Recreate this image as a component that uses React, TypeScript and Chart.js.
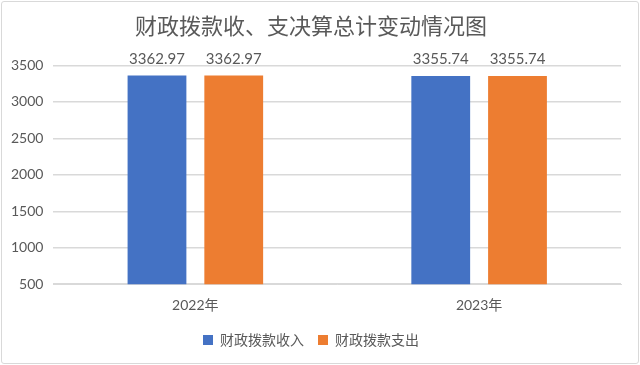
import React, { useEffect, useRef } from "react";
import { Chart, registerables } from "chart.js";

Chart.register(...registerables);

const categories = ["2022年", "2023年"];
const incomeValues = [3362.97, 3355.74];
const expenseValues = [3362.97, 3355.74];
const seriesNames = ["财政拨款收入", "财政拨款支出"];
const yTicks = [500, 1000, 1500, 2000, 2500, 3000, 3500];
const titleText = "财政拨款收、支决算总计变动情况图";

const FONT = 'Lato, "Noto Sans CJK SC", sans-serif';
const TEXT = "#595959";

const labelPlugin = {
  id: "barLabels",
  afterDatasetsDraw(chart: any) {
    const ctx = chart.ctx;
    ctx.save();
    ctx.font = `15px ${FONT}`;
    ctx.fillStyle = TEXT;
    ctx.textAlign = "center";
    ctx.textBaseline = "bottom";
    chart.data.datasets.forEach((ds: any, di: number) => {
      const meta = chart.getDatasetMeta(di);
      meta.data.forEach((el: any, i: number) => {
        const v = ds.data[i] as number;
        ctx.fillText(v.toFixed(2), el.x, el.y - 9);
      });
    });
    ctx.restore();
  },
};

export default function App() {
  const ref = useRef<HTMLCanvasElement>(null);
  useEffect(() => {
    if (!ref.current) return;
    const chart = new Chart(ref.current, {
      type: "bar",
      data: {
        labels: categories,
        datasets: [
          {
            label: seriesNames[0],
            data: incomeValues,
            backgroundColor: "#4472C4",
            categoryPercentage: 0.541,
            barPercentage: 0.766,
          },
          {
            label: seriesNames[1],
            data: expenseValues,
            backgroundColor: "#ED7D31",
            categoryPercentage: 0.541,
            barPercentage: 0.766,
          },
        ],
      },
      options: {
        animation: false,
        responsive: false,
        maintainAspectRatio: false,
        layout: { padding: { left: 1, right: 19, top: 0, bottom: 8 } },
        plugins: {
          title: {
            display: true,
            text: titleText,
            color: TEXT,
            font: { family: FONT, size: 22, weight: "normal" },
            padding: { top: 14, bottom: 25 },
          },
          legend: {
            position: "bottom",
            labels: {
              color: TEXT,
              font: { family: FONT, size: 14 },
              boxWidth: 10,
              boxHeight: 10,
              padding: 14,
            },
          },
          tooltip: { enabled: false },
        },
        scales: {
          x: {
            grid: { display: false },
            border: { display: true, color: "#d9d9d9" },
            ticks: { color: TEXT, font: { family: FONT, size: 14 }, padding: 5 },
          },
          y: {
            min: 500,
            max: 3500,
            afterBuildTicks: (axis: any) => {
              axis.ticks = yTicks.map((v) => ({ value: v }));
            },
            grid: { color: "#d9d9d9", lineWidth: 1.5, drawTicks: false },
            border: { display: false },
            ticks: {
              color: TEXT,
              font: { family: FONT, size: 14 },
              padding: 10,
              callback: (v: any) => String(v),
            },
          },
        },
      },
      plugins: [labelPlugin],
    });
    return () => chart.destroy();
  }, []);
  return (
    <div
      style={{
        position: "absolute",
        left: 0,
        top: 0,
        width: 640,
        height: 365,
        background: "#fff",
      }}
    >
      <canvas ref={ref} width={640} height={365} style={{ position: "absolute", left: 0, top: 0 }} />
      <div
        style={{
          position: "absolute",
          left: 1,
          top: 1,
          width: 638,
          height: 363,
          boxSizing: "border-box",
          border: "1.5px solid #d9d9d9",
          borderRadius: 3,
          pointerEvents: "none",
        }}
      />
    </div>
  );
}
